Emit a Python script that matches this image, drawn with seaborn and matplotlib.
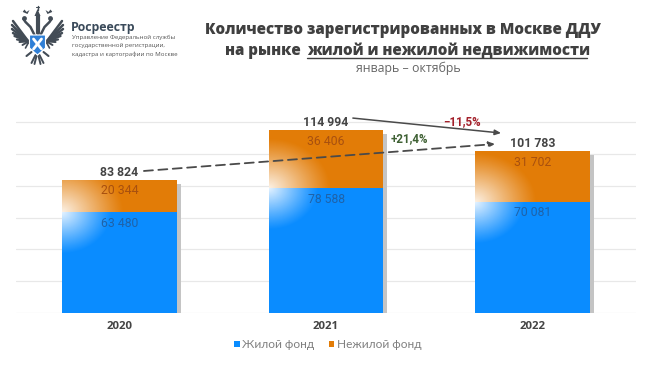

import numpy as np
import pandas as pd
import seaborn as sns
import matplotlib
matplotlib.use("Agg")
import matplotlib.pyplot as plt
from matplotlib.patches import Polygon, Circle

years = ["2020", "2021", "2022"]
residential = [63480, 78588, 70081]
commercial = [20344, 36406, 31702]
totals = [83824, 114994, 101783]
res_labels = ["63 480", "78 588", "70 081"]
com_labels = ["20 344", "36 406", "31 702"]
tot_labels = ["83 824", "114 994", "101 783"]
legend_labels = ["Жилой фонд", "Нежилой фонд"]

BLUE = "#0a8cff"
ORANGE = "#e27c07"
W, H = 650, 367

sns.set_theme(style="white")
plt.rcParams["font.family"] = ["Roboto", "DejaVu Sans"]

fig = plt.figure(figsize=(W / 100, H / 100), dpi=100, facecolor="white")
ax = fig.add_axes([16 / W, 1 - 313 / H, 620 / W, (313 - 104) / H])

df = pd.DataFrame({"year": years, "total": totals, "res": residential})
bw = 115 / 206.67
sns.barplot(data=df, x="year", y="total", color=ORANGE, saturation=1, width=bw, ax=ax, zorder=3, linewidth=0)
sns.barplot(data=df, x="year", y="res", color=BLUE, saturation=1, width=bw, ax=ax, zorder=3.1, linewidth=0)
ymax = 20000 * 209 / 31.8
ax.set_xlim(-0.5, 2.5)
ax.set_ylim(0, ymax)
ax.set_yticks(np.arange(0, 120001, 20000))
ax.set_yticklabels([])
ax.yaxis.grid(True, color="#e8e8e8", lw=0.9, zorder=0)
ax.xaxis.grid(False)
sns.despine(ax=ax, left=True, bottom=True, top=True, right=True)
ax.tick_params(length=0)
ax.set_xlabel(""); ax.set_ylabel("")
ax.set_xticks(range(3))
ax.set_xticklabels(years, fontsize=8.2, fontweight="bold", color="#444444", family="Open Sans")
ax.tick_params(axis="x", pad=6)

# shadows and glows
n = 200
xx = np.linspace(-1, 1, n)
X, Y = np.meshgrid(xx, xx)
R = np.sqrt(X**2 + Y**2)
rgba = np.ones((n, n, 4))
rgba[..., 3] = np.clip(1 - R, 0, 1) ** 1.1 * 0.9
px_y = ymax / 209
px_x = 1 / 206.67
for i, (r, t) in enumerate(zip(residential, totals)):
    ax.fill_between([i + bw / 2, i + bw / 2 + 4 * px_x], [0, 0], [t - 4 * px_y] * 2, color="#c4c4c4", lw=0, zorder=2.5)
    for top, bot, rx_px, ry_px in [(t, r, 62, 50), (r, 0, 50, 42)]:
        rx, ry = rx_px * px_x, ry_px * px_y
        cx = i - bw / 2
        im = ax.imshow(rgba, extent=[cx - rx, cx + rx, r - ry, r + ry], aspect="auto", zorder=3.5, interpolation="bilinear")
        im.set_clip_path(plt.Rectangle((i - bw / 2, bot), bw, top - bot, transform=ax.transData))
ax.set_xlim(-0.5, 2.5)
ax.set_ylim(0, ymax)

for i in range(3):
    ax.text(i, totals[i] - 6900, com_labels[i], ha="center", va="center", fontsize=8.8, color="#a8500f", zorder=5)
    ax.text(i, residential[i] - 6900, res_labels[i], ha="center", va="center", fontsize=8.8, color="#1f62a8", zorder=5)
    ax.text(i, totals[i] + 4800, tot_labels[i], ha="center", va="center", fontsize=8.8, fontweight="bold", color="#444444", zorder=5)

# trend arrows
ax.annotate("", xy=(1.818, totals[2] + 4500), xytext=(0.119, totals[0] + 5500),
            arrowprops=dict(arrowstyle="-|>,head_length=0.3,head_width=0.13", color="#4a4a4a", lw=1.3, ls=(0, (5, 3)), shrinkA=0, shrinkB=0), zorder=6)
ax.annotate("", xy=(1.847, totals[2] + 11400), xytext=(1.13, totals[1] + 7600),
            arrowprops=dict(arrowstyle="-|>,head_length=0.3,head_width=0.13", color="#4a4a4a", lw=1.1, shrinkA=0, shrinkB=0), zorder=6)
fig.text(462 / W, 1 - 121.5 / H, "−11,5%", fontsize=8.4, fontweight="bold", color="#a3202a", ha="center", va="center")
fig.text(409 / W, 1 - 139 / H, "+21,4%", fontsize=8.4, fontweight="bold", color="#3f6134", ha="center", va="center")

# legend
for xp, c, lab in [(234, BLUE, legend_labels[0]), (328.5, ORANGE, legend_labels[1])]:
    fig.add_artist(plt.Rectangle((xp / W, 1 - 347 / H), 5.5 / W, 6 / H, transform=fig.transFigure, color=c, lw=0))
    fig.text((xp + 8.5) / W, 1 - 344 / H, lab, fontsize=8.6, family="Lato", color="#808080", ha="left", va="center")

# titles
TC = "#404040"
tkw = dict(fontsize=10.9, fontweight=800, family="Open Sans", color=TC, va="center")
fig.text(403 / W, 1 - 30 / H, "Количество зарегистрированных в Москве ДДУ", ha="center", **tkw)
fig.text(305 / W, 1 - 51 / H, "на рынке ", ha="right", **tkw)
fig.text(307 / W, 1 - 51 / H, "жилой и нежилой недвижимости", ha="left", **tkw)
fig.add_artist(plt.Line2D([307 / W, 587 / W], [1 - 58.3 / H] * 2, color=TC, lw=1, transform=fig.transFigure))
fig.text(408 / W, 1 - 68 / H, "январь – октябрь", fontsize=8.9, family="Open Sans", color="#666666", ha="center", va="center")

# header text
fig.text(71 / W, 1 - 27 / H, "Росреестр", fontsize=8.9, fontweight="bold", family="Open Sans", color="#3a4a5a", ha="left", va="center")
for yy, s in zip([37, 45.5, 54], ["Управление Федеральной службы", "государственной регистрации,", "кадастра и картографии по Москве"]):
    fig.text(71.5 / W, 1 - yy / H, s, fontsize=4.4, family="Open Sans", color="#555555", ha="left", va="center")

# logo emblem (decorative, in pixel coordinates)
lg = fig.add_axes([0, 0, 1, 1], facecolor="none")
lg.set_xlim(0, W); lg.set_ylim(H, 0); lg.axis("off")
DK = "#434c56"
cx = 37.5
for sgn in (-1, 1):
    for k, (tipx, tipy, w) in enumerate([(24.5, 20, 1.8), (25.5, 24, 1.8), (25.5, 28, 1.8), (24.5, 32, 1.8), (23, 35, 1.7), (20.5, 38.5, 1.6), (18, 41, 1.5), (15, 44, 1.4), (12, 47, 1.2)]):
        lg.plot([cx + sgn * 8, cx + sgn * tipx], [43 - k * 0.3, tipy + 1], color=DK, lw=w, solid_capstyle="round")
    lg.plot([cx + sgn * 3, cx + sgn * 7, cx + sgn * 12, cx + sgn * 14], [35, 27, 22, 19], color=DK, lw=1.8)
    lg.add_patch(Circle((cx + sgn * 13, 18.5), 2.4, color=DK, lw=0))
    lg.add_patch(Polygon([(cx + sgn * 10, 14), (cx + sgn * 8, 10), (cx + sgn * 11, 12), (cx + sgn * 13, 9.5), (cx + sgn * 15, 12), (cx + sgn * 17, 11)], closed=True, color=DK, lw=0))
    lg.plot([cx + sgn * 6, cx + sgn * 11], [52, 56], color=DK, lw=1.5)
    lg.plot([cx + sgn * 2, cx + sgn * 6], [55, 63], color=DK, lw=1.4)
    lg.plot([cx + sgn * 1, cx + sgn * 3], [56, 64], color=DK, lw=1.4)
lg.add_patch(Polygon([(cx - 3, 16), (cx, 9), (cx + 3, 16)], closed=True, color=DK, lw=0))
lg.plot([cx, cx], [5.5, 10], color=DK, lw=1)
lg.plot([cx - 1.5, cx + 1.5], [7, 7], color=DK, lw=0.8)
lg.plot([cx, cx], [16, 33], color=DK, lw=3)
lg.add_patch(Polygon([(cx - 8, 35), (cx + 8, 35), (cx + 8, 48), (cx, 55), (cx - 8, 48)], closed=True, facecolor="#2f7fd6", edgecolor="white", lw=0.8, zorder=4))
lg.plot([cx - 4, cx + 4], [39, 49], color="white", lw=2, zorder=5)
lg.plot([cx - 4, cx + 4], [49, 39], color="white", lw=2, zorder=5)

fig.savefig("out.png", dpi=100, facecolor="white")
